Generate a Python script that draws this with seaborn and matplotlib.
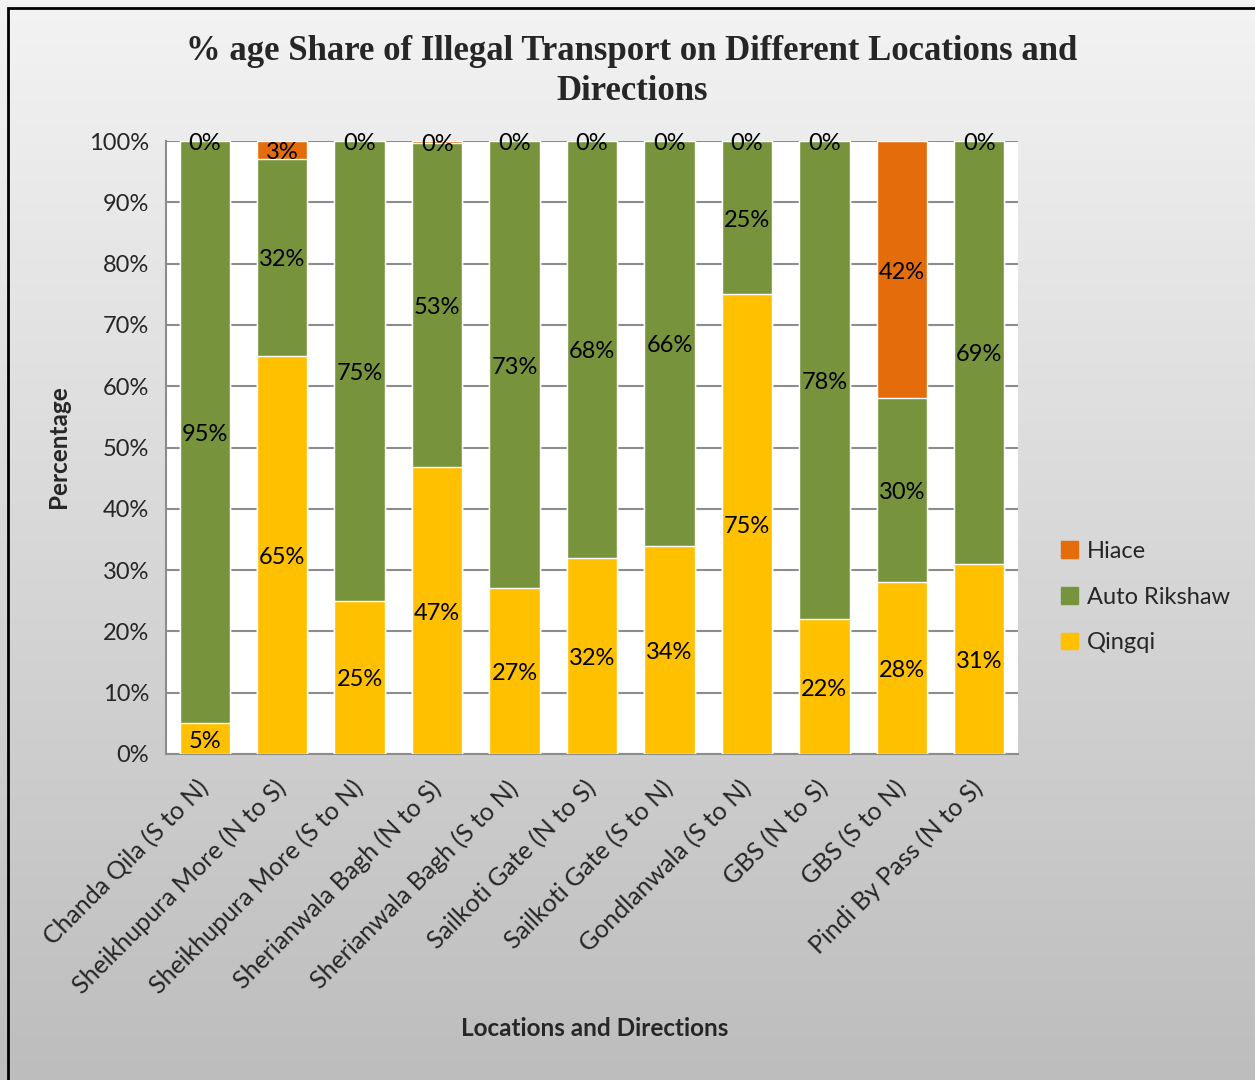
import numpy as np
import pandas as pd
import matplotlib
matplotlib.use("Agg")
import matplotlib.pyplot as plt
import seaborn as sns
from matplotlib.patches import Rectangle, Patch
from matplotlib.colors import LinearSegmentedColormap

categories = ["Chanda Qila (S to N)", "Sheikhupura More (N to S)", "Sheikhupura More (S to N)",
              "Sherianwala Bagh (N to S)", "Sherianwala Bagh (S to N)", "Sailkoti Gate (N to S)",
              "Sailkoti Gate (S to N)", "Gondlanwala (S to N)", "GBS (N to S)", "GBS (S to N)",
              "Pindi By Pass (N to S)"]
qingqi = [5, 65, 25, 46.8, 27, 32, 34, 75, 22, 28, 31]
auto_rikshaw = [95, 32, 75, 52.8, 73, 68, 66, 25, 78, 30, 69]
hiace = [0, 3, 0, 0.4, 0, 0, 0, 0, 0, 42, 0]

C_Q, C_A, C_H = "#FFC000", "#77933C", "#E46C0A"

sns.set_theme(style="white")
plt.rcParams["font.family"] = ["Lato", "DejaVu Sans"]

q = np.array(qingqi, float)
a = np.array(auto_rikshaw, float)
h = np.array(hiace, float)
df = pd.DataFrame({"cat": categories, "q": q, "qa": q + a, "qah": q + a + h})

fig = plt.figure(figsize=(12.55, 10.8), dpi=100)
bg = fig.add_axes([0, 0, 1, 1], zorder=-10)
grad = np.linspace(0, 1, 256).reshape(-1, 1)
cm = LinearSegmentedColormap.from_list("g", ["#f3f3f3", "#bdbdbd"])
bg.imshow(grad, aspect="auto", cmap=cm, extent=[0, 1, 0, 1], origin="upper")
bg.set_axis_off()

ax = fig.add_axes([166/1255, 1-754/1080, (1018-166)/1255, (754-141)/1080])
ax.set_facecolor("white")

bw = 0.65
sns.barplot(data=df, x="cat", y="qah", color=C_H, width=bw, saturation=1, ax=ax, zorder=3)
sns.barplot(data=df, x="cat", y="qa", color=C_A, width=bw, saturation=1, ax=ax, zorder=4)
sns.barplot(data=df, x="cat", y="q", color=C_Q, width=bw, saturation=1, ax=ax, zorder=5)

for i in range(len(categories)):
    segs = [(0, q[i]), (q[i], q[i] + a[i]), (q[i] + a[i], q[i] + a[i] + h[i])]
    vals = [q[i], a[i], h[i]]
    for (lo, hi), v in zip(segs, vals):
        if i in (1, 9) and v == 0:
            continue
        ax.text(i, (lo + hi) / 2 - 0.4, f"{int(round(v))}%", ha="center", va="center",
                fontsize=17, color="black", zorder=10)

ax.set_ylim(0, 100)
ax.set_xlim(-0.5, len(categories) - 0.5)
ax.set_yticks(np.arange(0, 101, 10))
ax.set_yticklabels([f"{t}%" for t in range(0, 101, 10)], fontsize=17)
ax.yaxis.grid(True, color="#8c8c8c", linewidth=1.5, zorder=0)
ax.set_axisbelow(True)
for s in ["top", "right"]:
    ax.spines[s].set_visible(False)
for s in ["left", "bottom"]:
    ax.spines[s].set_color("#8c8c8c")
    ax.spines[s].set_linewidth(1.5)
ax.tick_params(axis="y", length=5, color="#8c8c8c", pad=7)
ax.tick_params(axis="x", length=0, pad=22)
ax.set_xticks(range(len(categories)))
ax.set_xticklabels(categories, rotation=45, ha="right", va="center", rotation_mode="anchor", fontsize=18)
ax.set_xlabel("")
ax.set_ylabel("")

fig.text(58/1255, 1-447/1080, "Percentage", rotation=90, ha="center", va="center",
         fontsize=17.5, fontweight="bold")
fig.text(595/1255, 1-1028/1080, "Locations and Directions", ha="center", va="center",
         fontsize=17.5, fontweight="bold")
fig.text(632/1255, 1-72/1080, "% age Share of Illegal Transport on Different Locations and\nDirections",
         ha="center", va="center", fontsize=25, fontweight="bold",
         family=["Liberation Serif", "DejaVu Serif"], linespacing=1.28)

handles = [Patch(color=C_H), Patch(color=C_A), Patch(color=C_Q)]
fig.legend(handles, ["Hiace", "Auto Rikshaw", "Qingqi"], loc="center left",
           bbox_to_anchor=(1040/1255, 1-597/1080), frameon=False, fontsize=17,
           handlelength=0.7, handleheight=0.7, handletextpad=0.4, labelspacing=1.05)

fig.patches.append(Rectangle((8/1255, -0.05), 1.1, 1 - 8/1080 + 0.05, transform=fig.transFigure,
                             fill=False, edgecolor="black", linewidth=2, zorder=20))

fig.savefig("out.png", dpi=100)
